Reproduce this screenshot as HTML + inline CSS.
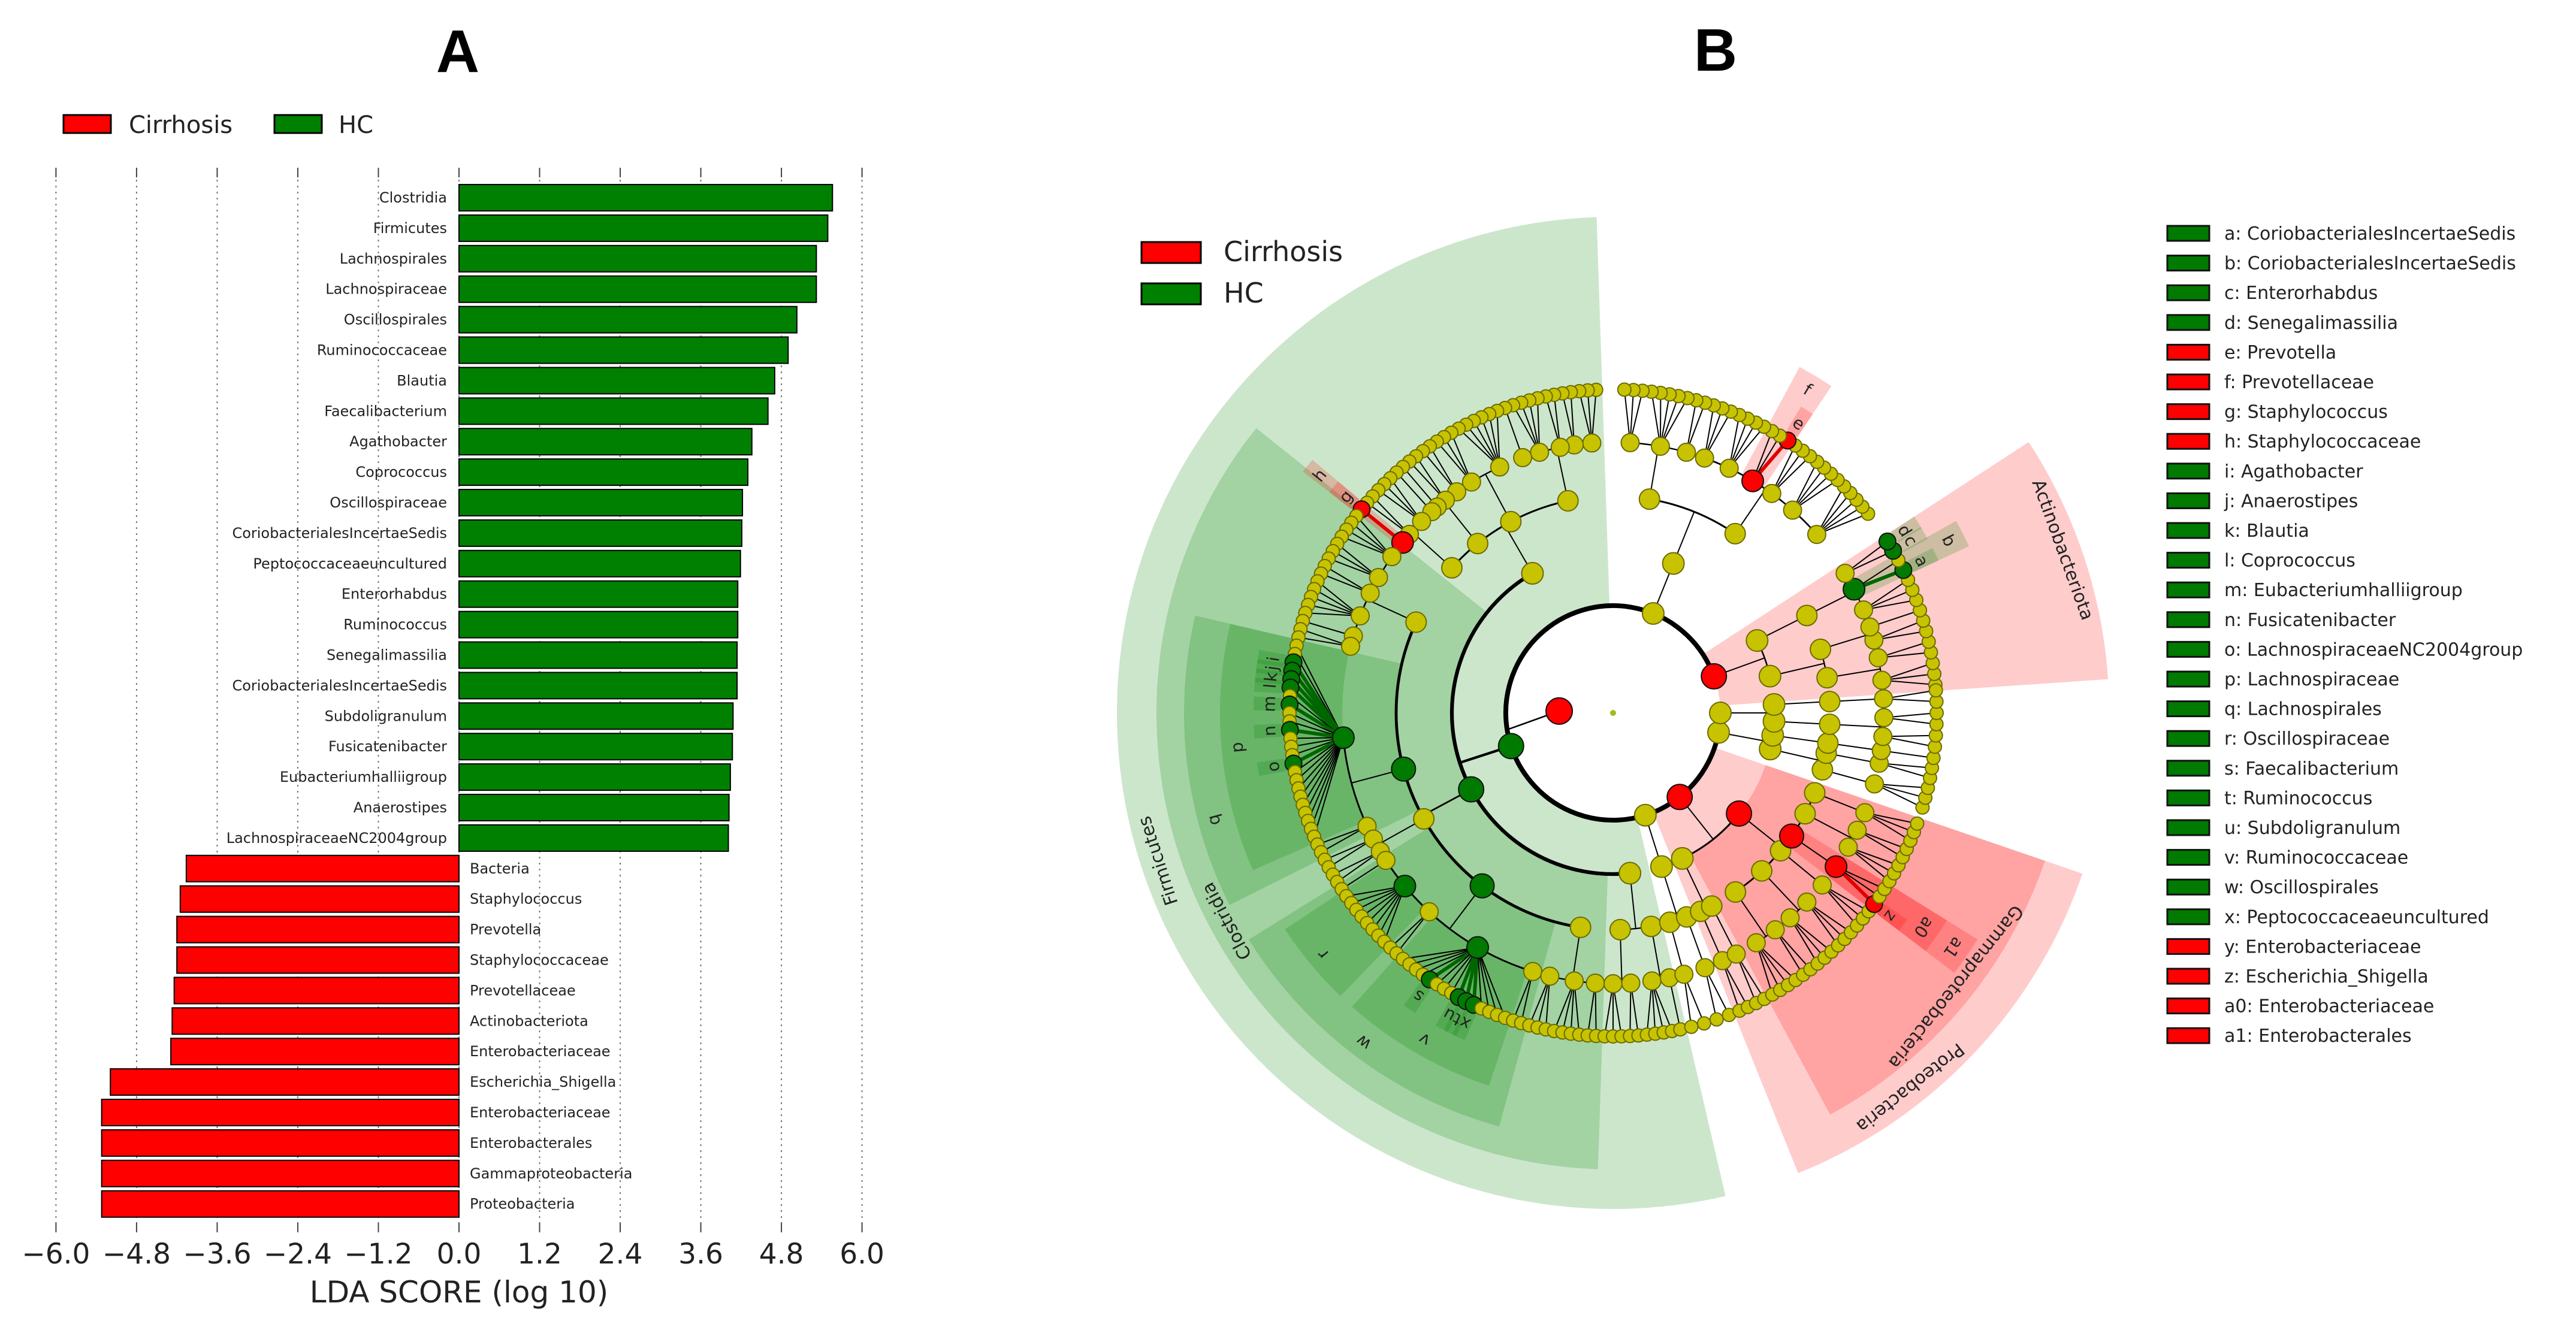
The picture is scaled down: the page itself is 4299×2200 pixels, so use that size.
<!DOCTYPE html>
<html><head><meta charset="utf-8">
<style>
html,body{margin:0;padding:0;background:#fff;}
svg{display:block;font-family:"DejaVu Sans","Liberation Sans",sans-serif;}
</style></head>
<body>
<svg id="fig" width="4299" height="2200" viewBox="0 0 4299 2200" xmlns="http://www.w3.org/2000/svg">
<rect width="4299" height="2200" fill="#fff"/>
<text x="764" y="120" font-family="Liberation Sans, sans-serif" font-weight="bold" font-size="100" text-anchor="middle">A</text>
<text x="2863" y="118" font-family="Liberation Sans, sans-serif" font-weight="bold" font-size="100" text-anchor="middle">B</text>
<g id="panelA"></g>
<g id="panelB"></g>
<g id="legendB"></g>
</svg>
<script>
// ---------- Panel A data ----------
const categories = ["Clostridia","Firmicutes","Lachnospirales","Lachnospiraceae","Oscillospirales","Ruminococcaceae","Blautia","Faecalibacterium","Agathobacter","Coprococcus","Oscillospiraceae","CoriobacterialesIncertaeSedis","Peptococcaceaeuncultured","Enterorhabdus","Ruminococcus","Senegalimassilia","CoriobacterialesIncertaeSedis","Subdoligranulum","Fusicatenibacter","Eubacteriumhalliigroup","Anaerostipes","LachnospiraceaeNC2004group","Bacteria","Staphylococcus","Prevotella","Staphylococcaceae","Prevotellaceae","Actinobacteriota","Enterobacteriaceae","Escherichia_Shigella","Enterobacteriaceae","Enterobacterales","Gammaproteobacteria","Proteobacteria"];
const ldaValues = [5.56,5.49,5.32,5.32,5.03,4.90,4.70,4.60,4.36,4.30,4.22,4.21,4.19,4.15,4.15,4.14,4.14,4.08,4.07,4.04,4.02,4.01,-4.06,-4.15,-4.20,-4.20,-4.24,-4.27,-4.29,-5.19,-5.32,-5.32,-5.32,-5.32];
const tickValues = [-6.0,-4.8,-3.6,-2.4,-1.2,0.0,1.2,2.4,3.6,4.8,6.0];
const tickLabels = ["\u22126.0","\u22124.8","\u22123.6","\u22122.4","\u22121.2","0.0","1.2","2.4","3.6","4.8","6.0"];

const NS="http://www.w3.org/2000/svg";
function mk(parent,tag,attrs,txt){const e=document.createElementNS(NS,tag);for(const k in attrs)e.setAttribute(k,attrs[k]);if(txt!==undefined)e.textContent=txt;parent.appendChild(e);return e;}

const A=document.getElementById('panelA');
const zeroX=766, unit=112.1, plotTop=280, plotBot=2057, barTop0=308, pitch=50.9, barH=44;
const xs=v=>zeroX+v*unit;
const ys=i=>barTop0+i*pitch;

tickValues.forEach((t,i)=>{
  const x=xs(t);
  let g=mk(A,'line',{x1:x,x2:x,y1:plotTop,y2:plotBot,stroke:'#777','stroke-width':2,'stroke-dasharray':'3,7'});
  
  
  let t1=mk(A,'line',{x1:x,x2:x,y1:plotTop,y2:plotTop+16,stroke:'#444','stroke-width':2});
  
  
  let t2=mk(A,'line',{x1:x,x2:x,y1:plotBot-16,y2:plotBot,stroke:'#444','stroke-width':2});
  
  
  let lb=mk(A,'text',{x:x,y:2109,'font-size':47,'text-anchor':'middle',fill:'#222'},tickLabels[i]);
  
  
});
let xl=mk(A,'text',{x:766,y:2174,'font-size':50,'text-anchor':'middle',fill:'#222'},'LDA SCORE (log 10)');



categories.forEach((c,i)=>{
  const v=ldaValues[i], y=ys(i);
  const x0=Math.min(xs(0),xs(v)), w=Math.abs(xs(v)-xs(0));
  let b=mk(A,'rect',{x:x0,y:y,width:w,height:barH,fill:v>0?'#008000':'#ff0000',stroke:'#000','stroke-width':2});
  
  
  let t=mk(A,'text',{x:v>0?746:784,y:y+barH/2+8,'font-size':24,'text-anchor':v>0?'end':'start',fill:'#222'},c);
  
  
});
// legend A
[['Cirrhosis','#ff0000',106,215],['HC','#008000',458,565]].forEach(l=>{
  let r=mk(A,'rect',{x:l[2],y:192,width:79,height:30,fill:l[1],stroke:'#000','stroke-width':3});
  
  
  let t=mk(A,'text',{x:l[3],y:222,'font-size':40,fill:'#222'},l[0]);
  
  
});

// ---------- Panel B: cladogram ----------
const CX=2692, CY=1190;
const ringRadius=[90,179,269,362,452,540];
const wedgeOuter=[0,828,762,716,656,600];
const dotR=[19,18,18,17,15,11];
function F(c,ch,lab){return {c:c,ch:ch,lab:lab};}
const phylumSpans=[[5,32],[38,88],[93,282],[284,291],[293,340],[343,352],[354,364]];
const phyla=[
 F('r',[F(null,[F(null,[3,2]),F(null,[2,1])]),F(null,[F(null,[3,F('g',[F('g',null,'a'),F(null)],'b'),F(null,[F('g',null,'c'),F('g',null,'d')])])])],'Actinobacteriota'),
 F(null,[F(null,[F(null,[5,4,3,F('r',[F('r',null,'e'),F(null),F(null)],'f'),4,3]),F(null,[2,5,3])])]),
 F('g',[
   F(null,[F(null,[3,2,2,4,1]),F(null,[6,3]),F(null,[2,2,1,1]),F(null,[3,2,F('r',[F('r',null,'g')],'h')])]),
   F('g',[
     F(null,[4,3,2,5,1,2]),
     F('g',[F('g',[F(null),F(null),F('g',null,'i'),F('g',null,'j'),F('g',null,'k'),F('g',null,'l'),F(null),F('g',null,'m'),F(null),F(null),F('g',null,'n'),F(null),F(null),F(null),F('g',null,'o'),F(null),F(null),F(null),F(null),F(null),F(null),F(null),F(null),F(null)],'p'),2],'q'),
     F(null,[2,2]),
     F('g',[1,F('g',8,'r'),2,F('g',[F(null),F(null),F(null),F(null),F('g',null,'s'),F(null),F(null),F(null),F('g',null,'u'),F('g',null,'t'),F('g',null,'x'),F(null),F(null),F(null),F(null)],'v'),2],'w'),
     F(null,[3,4,2])
   ],'Clostridia'),
   F(null,[F(null,[3,2]),F(null,[4,1])])
 ],'Firmicutes'),
 F(null,[F(null,[F(null,[2]),F(null,[2])])]),
 F('r',[F(null,[F(null,[2]),F(null,[2])]),F('r',[F(null,[4,2]),F(null,[3,3]),F(null,[3]),F('r',[F('r',[F('r',null,'z'),F(null),F(null)],'a0')],'a1'),F(null,[3,2]),F(null,[3])],'Gammaproteobacteria')],'Proteobacteria'),
 F(null,[F(null,[F(null,[3]),F(null,[2])]),F(null,[F(null,[1])])]),
 F(null,[F(null,[F(null,[2,2])]),F(null,[F(null,[2])])])
];
const root=F('r',phyla,null);
const rootAngle=178;

function expand(n,depth){
  n.depth=depth;
  if(typeof n.ch==='number'){const k=n.ch;n.ch=[];for(let i=0;i<k;i++)n.ch.push(F(null));}
  if(n.ch){n.ch=n.ch.map(c=>typeof c==='number'?F(null,c):c);n.ch.forEach(c=>expand(c,depth+1));}
}
expand(root,0);
function leaves(n){return n.ch&&n.ch.length?n.ch.flatMap(leaves):[n];}
phyla.forEach((p,i)=>{
  const L=leaves(p), s=phylumSpans[i];
  L.forEach((l,j)=>{l.ang=L.length>1?s[0]+(s[1]-s[0])*j/(L.length-1):(s[0]+s[1])/2;});
});
function setAng(n){if(n.ch&&n.ch.length){n.ch.forEach(setAng);n.ang=(n.ch[0].ang+n.ch[n.ch.length-1].ang)/2;n.nl=n.ch.reduce((a,c)=>a+c.nl,0);}else n.nl=1;}
setAng(root); root.ang=rootAngle;
function pt(r,a){const t=a*Math.PI/180;return [CX+r*Math.cos(t),CY-r*Math.sin(t)];}
function arcPath(r,a0,a1){const p0=pt(r,a0),p1=pt(r,a1);const large=(a1-a0)>180?1:0;return `M${p0[0]},${p0[1]} A${r},${r} 0 ${large} 0 ${p1[0]},${p1[1]}`;}
function wedgePath(r0,r1,a0,a1){const a=pt(r1,a0),b=pt(r1,a1),c=pt(r0,a1),d=pt(r0,a0);const large=(a1-a0)>180?1:0;
  return `M${a[0]},${a[1]} A${r1},${r1} 0 ${large} 0 ${b[0]},${b[1]} L${c[0]},${c[1]} A${r0},${r0} 0 ${large} 1 ${d[0]},${d[1]} Z`;}

const B=document.getElementById('panelB');
const gW=mk(B,'g',{});  
const gL=mk(B,'g',{});  
const gN=mk(B,'g',{});  
const gT=mk(B,'g',{});  

const all=[];(function walk(n){all.push(n);(n.ch||[]).forEach(walk);})(root);
all.filter(n=>n.c&&n.lab&&n.depth>0).sort((a,b)=>a.depth-b.depth).forEach(n=>{
  const L=leaves(n);const a0=L[0].ang-1.1,a1=L[L.length-1].ang+1.1;
  const r0=n.depth===5?ringRadius[5]+14:ringRadius[n.depth];
  let w=mk(gW,'path',{d:wedgePath(r0,wedgeOuter[n.depth],a0,a1),fill:n.c==='r'?'rgba(255,0,0,0.2)':'rgba(0,128,0,0.2)'});
  
  
  const lr=wedgeOuter[n.depth]-(n.depth<=2?30:26);
  const p=pt(lr,n.ang);
  let t=mk(gT,'text',{x:p[0],y:p[1],'font-size':n.lab.length>2?30:28,'text-anchor':'middle','dominant-baseline':'central',fill:'#222',transform:`rotate(${90-n.ang} ${p[0]} ${p[1]})`},n.lab);
  
  
});
all.forEach(n=>{
  if(!n.ch||!n.ch.length)return;
  const rc=ringRadius[n.depth+1], rp=ringRadius[n.depth];
  if(n.depth<=3){
    const wdt=Math.min(8,2+n.nl/30);
    const a0=n.ch[0].ang,a1=n.ch[n.ch.length-1].ang;
    if(a1-a0>0.01){let arc=mk(gL,'path',{d:arcPath(rc,a0,a1),fill:'none',stroke:'#000','stroke-width':wdt});
      
      }
    const p0=pt(rp,n.ang),p1=pt(rc,n.ang);
    if(n.depth>0){let ln=mk(gL,'line',{x1:p0[0],y1:p0[1],x2:p1[0],y2:p1[1],stroke:'#000','stroke-width':Math.max(2,wdt-2)});
      
      }
    else{const p2=pt(rc,n.ang+11);let ln=mk(gL,'line',{x1:p0[0],y1:p0[1],x2:p2[0],y2:p2[1],stroke:'#000','stroke-width':2.5});
      
      }
  } else {
    const p0=pt(rp,n.ang);
    n.ch.forEach(c=>{const p1=pt(rc,c.ang);
      let ln=mk(gL,'line',{x1:p0[0],y1:p0[1],x2:p1[0],y2:p1[1],stroke:(c.c&&n.c)?(c.c==='r'?'#e00000':'#006600'):'#000','stroke-width':(c.c&&n.c)?6:2});
      
      });
  }
});
all.forEach(n=>{
  const p=pt(ringRadius[n.depth],n.ang);
  let r=dotR[n.depth]+(n.c?3:0);
  let c=mk(gN,'circle',{cx:p[0],cy:p[1],r:r,fill:n.c==='r'?'#ff0000':n.c==='g'?'#007a00':'#c8c300',stroke:n.c?'#111':'#6b6b00','stroke-width':2});
  
  
});
let cdot=mk(gN,'circle',{cx:CX,cy:CY,r:5,fill:'#a8b820'});



const LG=document.getElementById('legendB');
[['Cirrhosis','#ff0000',404],['HC','#008000',473]].forEach(l=>{
  let r=mk(LG,'rect',{x:1905,y:l[2],width:99,height:35,fill:l[1],stroke:'#000','stroke-width':3});
  
  
  let t=mk(LG,'text',{x:2042,y:l[2]+32,'font-size':46,fill:'#222'},l[0]);
  
  
});
const legendKeys=["a","b","c","d","e","f","g","h","i","j","k","l","m","n","o","p","q","r","s","t","u","v","w","x","y","z","a0","a1"];
const legendNames=["CoriobacterialesIncertaeSedis","CoriobacterialesIncertaeSedis","Enterorhabdus","Senegalimassilia","Prevotella","Prevotellaceae","Staphylococcus","Staphylococcaceae","Agathobacter","Anaerostipes","Blautia","Coprococcus","Eubacteriumhalliigroup","Fusicatenibacter","LachnospiraceaeNC2004group","Lachnospiraceae","Lachnospirales","Oscillospiraceae","Faecalibacterium","Ruminococcus","Subdoligranulum","Ruminococcaceae","Oscillospirales","Peptococcaceaeuncultured","Enterobacteriaceae","Escherichia_Shigella","Enterobacteriaceae","Enterobacterales"];
const legendGroups=["g","g","g","g","r","r","r","r","g","g","g","g","g","g","g","g","g","g","g","g","g","g","g","g","r","r","r","r"];
legendKeys.forEach((k,i)=>{
  const y=389+i*49.6;
  let r=mk(LG,'rect',{x:3617,y:y-12,width:70,height:25,fill:legendGroups[i]==='r'?'#ff0000':'#007a00',stroke:'#111','stroke-width':3});
  
  
  let t=mk(LG,'text',{x:3712,y:y+11,'font-size':30,fill:'#222'},k+': '+legendNames[i]);
  
  
});
</script>
</body></html>
